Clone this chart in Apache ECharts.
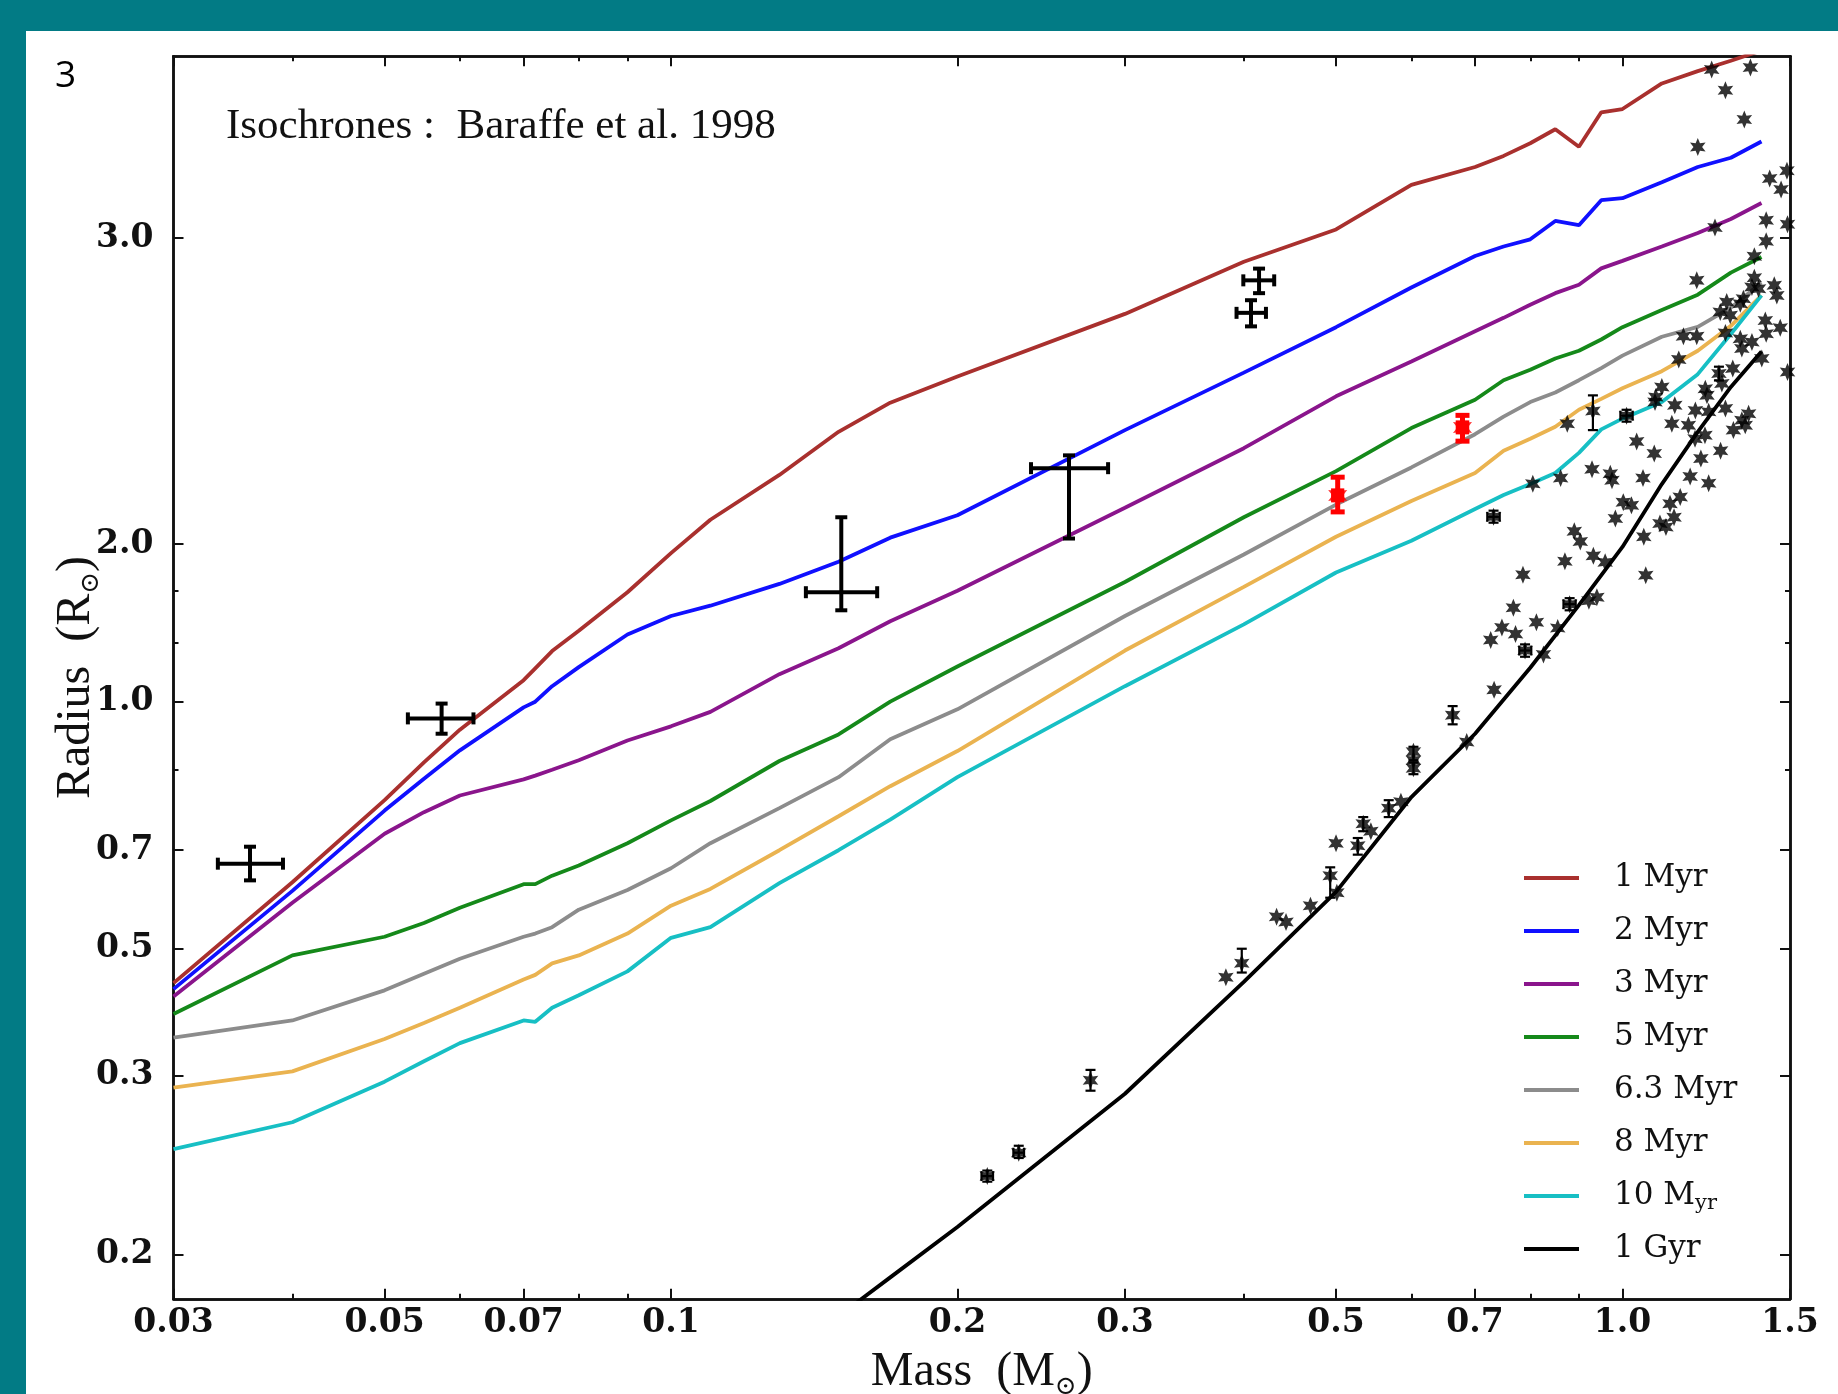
<!DOCTYPE html>
<html>
<head>
<meta charset="utf-8">
<title>Radius vs mass with Baraffe et al. 1998 isochrones</title>
<script src="https://cdn.jsdelivr.net/npm/echarts@6.0.0/dist/echarts.min.js"></script>
<style>
  html, body { margin: 0; padding: 0; }
  body { width: 1838px; height: 1394px; background: #027b85; position: relative; overflow: hidden; }
  #main { position: absolute; left: 26px; top: 31px; width: 1812px; height: 1363px; background: #fff; }
</style>
</head>
<body>
<div id="main"></div>
<script>
// axis ticks (the printed radius labels do not match the tick values, as in the original figure)
const massMajor = [0.03, 0.05, 0.07, 0.1, 0.2, 0.3, 0.5, 0.7, 1.0, 1.5];
const massMajorLabels = ['0.03', '0.05', '0.07', '0.1', '0.2', '0.3', '0.5', '0.7', '1.0', '1.5'];
const massMinor = [0.04, 0.06, 0.08, 0.09, 0.4, 0.6, 0.8, 0.9];
const radiusMajor = [0.2, 0.3, 0.4, 0.5, 0.7, 1.0, 2.0];
const radiusMajorLabels = ['0.2', '0.3', '0.5', '0.7', '1.0', '2.0', '3.0'];
const radiusMinor = [0.6, 0.8, 0.9];

// isochrones, mass grid shared by the Myr tracks
const isoMass = [0.03, 0.04, 0.05, 0.055, 0.06, 0.07, 0.072, 0.075, 0.08, 0.09, 0.1, 0.11, 0.13, 0.15, 0.17,
  0.2, 0.3, 0.4, 0.5, 0.6, 0.7, 0.75, 0.8, 0.85, 0.9, 0.95, 1.0, 1.1, 1.2, 1.3, 1.4];
const r1Myr = [0.370, 0.465, 0.560, 0.610, 0.657, 0.735, 0.755, 0.785, 0.822, 0.897, 0.980, 1.057, 1.170, 1.290, 1.378,
  1.462, 1.685, 1.896, 2.04, 2.257, 2.35, 2.41, 2.48, 2.56, 2.46, 2.66, 2.68, 2.84, 2.92, 2.99, 3.06];
const r2Myr = [0.365, 0.456, 0.547, 0.588, 0.627, 0.691, 0.700, 0.725, 0.757, 0.815, 0.850, 0.870, 0.914, 0.961, 1.015,
  1.068, 1.295, 1.475, 1.635, 1.789, 1.921, 1.963, 1.995, 2.08, 2.06, 2.18, 2.19, 2.27, 2.35, 2.40, 2.49];
const r3Myr = [0.359, 0.444, 0.519, 0.545, 0.566, 0.587, 0.592, 0.600, 0.613, 0.641, 0.662, 0.684, 0.745, 0.790, 0.840,
  0.900, 1.086, 1.243, 1.398, 1.513, 1.62, 1.67, 1.72, 1.766, 1.80, 1.868, 1.90, 1.963, 2.024, 2.089, 2.166];
const r5Myr = [0.345, 0.394, 0.411, 0.424, 0.439, 0.463, 0.463, 0.472, 0.483, 0.508, 0.535, 0.559, 0.612, 0.650, 0.700,
  0.758, 0.918, 1.063, 1.18, 1.301, 1.387, 1.45, 1.485, 1.523, 1.55, 1.59, 1.635, 1.70, 1.76, 1.85, 1.917];
const r6Myr = [0.327, 0.340, 0.364, 0.378, 0.391, 0.411, 0.414, 0.420, 0.437, 0.457, 0.480, 0.508, 0.550, 0.590, 0.643,
  0.688, 0.850, 0.977, 1.094, 1.19, 1.283, 1.335, 1.38, 1.41, 1.45, 1.49, 1.533, 1.60, 1.636, 1.709, 1.808];
const r8Myr = [0.292, 0.303, 0.326, 0.338, 0.350, 0.373, 0.377, 0.387, 0.394, 0.414, 0.441, 0.458, 0.500, 0.540, 0.578,
  0.626, 0.786, 0.908, 1.017, 1.103, 1.175, 1.236, 1.27, 1.305, 1.356, 1.39, 1.424, 1.48, 1.55, 1.64, 1.757];
const r10Myr = [0.254, 0.270, 0.296, 0.310, 0.323, 0.340, 0.339, 0.350, 0.360, 0.380, 0.410, 0.420, 0.464, 0.500, 0.536,
  0.590, 0.725, 0.834, 0.938, 1.008, 1.083, 1.118, 1.146, 1.175, 1.23, 1.297, 1.329, 1.38, 1.47, 1.61, 1.757];
const gyrMass = [0.15, 0.17, 0.2, 0.3, 0.4, 0.5, 0.6, 0.7, 0.8, 0.9, 1.0, 1.1, 1.2, 1.3, 1.4];
const r1Gyr = [0.174, 0.190, 0.213, 0.288, 0.371, 0.455, 0.564, 0.651, 0.756, 0.871, 0.994, 1.146, 1.29, 1.428, 1.547];

// observed stars [mass, radius]
const stars = [
  [0.215, 0.239], [0.232, 0.252], [0.276, 0.297], [0.383, 0.375], [0.398, 0.387], [0.433, 0.430], [0.443, 0.425],
  [0.470, 0.441], [0.493, 0.472], [0.501, 0.454], [0.500, 0.508], [0.527, 0.505], [0.534, 0.531], [0.544, 0.522],
  [0.568, 0.550], [0.585, 0.558], [0.603, 0.625], [0.603, 0.613], [0.603, 0.602], [0.686, 0.639], [0.663, 0.679],
  [0.733, 0.719], [0.727, 0.805], [0.747, 0.828], [0.772, 0.816], [0.812, 0.838], [0.790, 0.786], [0.826, 0.779],
  [0.855, 0.827], [0.768, 0.866], [0.880, 0.873], [0.940, 0.887], [0.922, 0.880], [0.786, 0.933], [1.058, 0.932],
  [0.870, 0.962], [0.932, 0.974], [0.959, 0.960], [0.890, 1.030], [0.903, 1.006], [1.053, 1.017], [0.732, 1.064],
  [0.983, 1.060], [1.002, 1.100], [1.022, 1.092], [1.095, 1.048], [1.111, 1.040], [1.133, 1.063], [1.150, 1.113],
  [1.122, 1.096], [0.805, 1.147], [0.861, 1.162], [0.929, 1.185], [0.971, 1.173], [0.975, 1.156], [1.051, 1.162],
  [1.080, 1.228], [1.035, 1.262], [1.178, 1.166], [1.232, 1.148], [1.209, 1.214], [1.268, 1.236], [1.221, 1.280],
  [1.192, 1.270], [1.308, 1.295], [0.875, 1.314], [0.931, 1.352], [1.010, 1.338], [1.084, 1.396], [1.100, 1.428],
  [1.082, 1.380], [1.135, 1.370], [1.127, 1.314], [1.173, 1.309], [1.193, 1.354], [1.232, 1.350], [1.283, 1.360],
  [1.357, 1.344], [1.335, 1.324], [1.346, 1.309], [1.222, 1.422], [1.227, 1.401], [1.263, 1.472], [1.272, 1.439],
  [1.306, 1.489], [1.146, 1.520], [1.401, 1.523], [1.491, 1.477], [1.159, 1.602], [1.197, 1.602], [1.283, 1.614],
  [1.330, 1.593], [1.368, 1.581], [1.335, 1.558], [1.413, 1.660], [1.416, 1.611], [1.465, 1.633], [1.267, 1.692],
  [1.298, 1.680], [1.287, 1.731], [1.330, 1.724], [1.340, 1.744], [1.444, 1.798], [1.453, 1.757], [1.376, 1.829],
  [1.390, 1.784], [1.368, 1.791], [1.197, 1.818], [1.376, 1.920], [1.416, 1.986], [1.416, 2.083], [1.491, 2.064],
  [1.251, 2.049], [1.489, 2.330], [1.428, 2.290], [1.468, 2.233], [1.200, 2.459], [1.343, 2.617], [1.283, 2.796],
  [1.241, 2.931], [1.363, 2.944]
];
// error bars [mass, radius, massLo, massHi, radiusLo, radiusHi]
const starErrors = [
  [0.215, 0.239, 0.212, 0.218, 0.236, 0.242], [0.232, 0.252, 0.229, 0.235, 0.249, 0.256],
  [0.276, 0.297, 0.276, 0.276, 0.290, 0.304], [0.398, 0.387, 0.398, 0.398, 0.379, 0.400],
  [0.493, 0.472, 0.493, 0.493, 0.449, 0.481], [0.527, 0.505, 0.527, 0.527, 0.495, 0.514],
  [0.534, 0.531, 0.534, 0.534, 0.522, 0.539], [0.568, 0.550, 0.568, 0.568, 0.539, 0.560],
  [0.603, 0.625, 0.603, 0.603, 0.613, 0.632], [0.603, 0.602, 0.603, 0.603, 0.594, 0.610],
  [0.663, 0.679, 0.663, 0.663, 0.665, 0.693], [0.790, 0.786, 0.779, 0.802, 0.775, 0.797],
  [0.880, 0.873, 0.867, 0.893, 0.861, 0.885], [0.732, 1.064, 0.721, 0.743, 1.050, 1.079],
  [0.931, 1.352, 0.931, 0.931, 1.295, 1.401], [1.010, 1.338, 0.995, 1.025, 1.320, 1.356],
  [1.263, 1.472, 1.263, 1.263, 1.449, 1.495]
];
const crossPoints = [
  [0.0361, 0.485, 0.0334, 0.0391, 0.467, 0.504], [0.0574, 0.674, 0.0529, 0.0620, 0.651, 0.697],
  [0.151, 0.897, 0.1386, 0.1647, 0.861, 1.063], [0.262, 1.188, 0.239, 0.288, 1.013, 1.223],
  [0.415, 1.818, 0.3995, 0.4305, 1.766, 1.867], [0.407, 1.689, 0.393, 0.422, 1.638, 1.738]
];
const redPoints = [
  [0.502, 1.117, 0.497, 0.507, 1.076, 1.164], [0.679, 1.303, 0.672, 0.686, 1.263, 1.339]
];

const L = Math.log10;
const starPath = 'path://M0 -1 L0.24 -0.42 L0.866 -0.5 L0.48 0 L0.866 0.5 L0.24 0.42 L0 1 L-0.24 0.42 L-0.866 0.5 L-0.48 0 L-0.866 -0.5 L-0.24 -0.42 Z';

const isochrones = [
  { name: '1 Myr', color: '#a9302e', radius: r1Myr },
  { name: '2 Myr', color: '#1010ff', radius: r2Myr },
  { name: '3 Myr', color: '#8a158c', radius: r3Myr },
  { name: '5 Myr', color: '#15891a', radius: r5Myr },
  { name: '6.3 Myr', color: '#8c8c8c', radius: r6Myr },
  { name: '8 Myr', color: '#eab350', radius: r8Myr },
  { name: '10 Myr', color: '#17bfc4', radius: r10Myr }
];

function labelFor(ticks, labels) {
  return function (v) {
    for (let i = 0; i < ticks.length; i++) {
      if (Math.abs(L(ticks[i]) - v) < 1e-6) return labels[i];
    }
    return '';
  };
}

const tickFont = { fontFamily: 'DejaVu Serif', fontWeight: 'bold', fontSize: 33, color: '#111' };

function makeAxis(dim, pos, ticks, len, labelOpt) {
  const ax = {
    type: 'value',
    position: pos,
    min: dim === 'x' ? L(0.03) : L(0.181),
    max: dim === 'x' ? L(1.5) : L(3.02),
    axisLine: { show: true, onZero: false, lineStyle: { color: '#111', width: 2.5 } },
    axisTick: { show: true, inside: true, length: len, lineStyle: { color: '#111', width: 2 }, customValues: ticks.map(L) },
    axisLabel: { show: false },
    splitLine: { show: false }
  };
  if (labelOpt) ax.axisLabel = labelOpt;
  return ax;
}

const chart = echarts.init(document.getElementById('main'));

const xMain = makeAxis('x', 'bottom', massMajor, 10, Object.assign({
  show: true, margin: 8, customValues: massMajor.map(L),
  formatter: labelFor(massMajor, massMajorLabels)
}, tickFont));
xMain.name = 'Mass  (M{s|⊙})';
xMain.nameLocation = 'middle';
xMain.nameGap = 40;
xMain.nameTextStyle = {
  fontFamily: 'Liberation Serif', fontSize: 48, color: '#111', lineHeight: 56,
  rich: { s: { fontFamily: 'DejaVu Serif', fontSize: 26, lineHeight: 26, verticalAlign: 'bottom', color: '#111' } }
};

const yMain = makeAxis('y', 'left', radiusMajor, 10, Object.assign({
  show: true, margin: 20, customValues: radiusMajor.map(L),
  formatter: labelFor(radiusMajor, radiusMajorLabels)
}, tickFont));
yMain.name = 'Radius  (R{s|⊙})';
yMain.nameLocation = 'middle';
yMain.nameRotate = 90;
yMain.nameGap = 69;
yMain.nameMoveOverlap = false;
yMain.nameTextStyle = xMain.nameTextStyle;

function errorBars(width, cap, color) {
  return function (params, api) {
    const m = api.value(0), r = api.value(1);
    const p = api.coord([m, r]);
    const xl = api.coord([api.value(2), r]), xr = api.coord([api.value(3), r]);
    const yb = api.coord([m, api.value(4)]), yt = api.coord([m, api.value(5)]);
    const h = cap / 2;
    const segs = [];
    if (xr[0] - xl[0] > 1) {
      segs.push([xl[0], p[1], xr[0], p[1]], [xl[0], p[1] - h, xl[0], p[1] + h], [xr[0], p[1] - h, xr[0], p[1] + h]);
    }
    if (yb[1] - yt[1] > 1) {
      segs.push([p[0], yt[1], p[0], yb[1]], [p[0] - h, yt[1], p[0] + h, yt[1]], [p[0] - h, yb[1], p[0] + h, yb[1]]);
    }
    return {
      type: 'group',
      children: segs.map(s => ({
        type: 'line',
        shape: { x1: s[0], y1: s[1], x2: s[2], y2: s[3] },
        style: { stroke: color, lineWidth: width }
      }))
    };
  };
}

const series = isochrones.map(s => ({
  type: 'line', name: s.name,
  data: isoMass.map((m, i) => [L(m), L(s.radius[i])]),
  symbol: 'none', showSymbol: false,
  lineStyle: { color: s.color, width: 3.8 },
  itemStyle: { color: s.color },
  z: 2
}));
series.push({
  type: 'line', name: '1 Gyr',
  data: gyrMass.map((m, i) => [L(m), L(r1Gyr[i])]),
  symbol: 'none', showSymbol: false,
  lineStyle: { color: '#000', width: 3.8 },
  itemStyle: { color: '#000' },
  z: 2
});
series.push({
  type: 'scatter', name: 'stars',
  data: stars.map(p => [L(p[0]), L(p[1])]),
  symbol: starPath, symbolSize: 18, symbolKeepAspect: true,
  itemStyle: { color: '#000' },
  z: 3
});
series.push({
  type: 'custom', name: 'star errors',
  renderItem: errorBars(2.2, 10, '#000'),
  data: starErrors.map(row => row.map(L)),
  encode: { x: 0, y: 1 },
  z: 4
});
series.push({
  type: 'custom', name: 'crosses',
  renderItem: errorBars(4, 12, '#000'),
  data: crossPoints.map(row => row.map(L)),
  encode: { x: 0, y: 1 },
  z: 4
});
series.push({
  type: 'custom', name: 'red errors',
  renderItem: errorBars(5, 14, '#ff0000'),
  data: redPoints.map(row => row.map(L)),
  encode: { x: 0, y: 1 },
  z: 5
});
series.push({
  type: 'scatter', name: 'red stars',
  data: redPoints.map(p => [L(p[0]), L(p[1])]),
  symbol: starPath, symbolSize: 22, symbolKeepAspect: true,
  itemStyle: { color: '#ff0000' },
  z: 6
});

chart.setOption({
  animation: false,
  backgroundColor: '#fff',
  title: [
    {
      text: 'Isochrones :  Baraffe et al. 1998', left: 200, top: 74, padding: 0,
      textStyle: { fontFamily: 'Liberation Serif', fontSize: 43, fontWeight: 'normal', color: '#111' }
    },
    {
      text: '3', left: 29, top: 27, padding: 0,
      textStyle: { fontFamily: 'Open Sans', fontSize: 37, fontWeight: 'normal', color: '#000' }
    }
  ],
  legend: {
    orient: 'vertical', left: 1498, top: 829, padding: 0,
    icon: 'rect', itemWidth: 55, itemHeight: 4, itemGap: 17,
    data: ['1 Myr', '2 Myr', '3 Myr', '5 Myr', '6.3 Myr', '8 Myr', '10 Myr', '1 Gyr'],
    formatter: n => (n === '10 Myr' ? '10 M{sub|yr}' : n),
    textStyle: {
      fontFamily: 'DejaVu Serif', fontSize: 31, lineHeight: 36, color: '#111', padding: [0, 0, 0, 30],
      rich: { sub: { fontFamily: 'DejaVu Serif', fontSize: 21, lineHeight: 21, verticalAlign: 'bottom', color: '#111' } }
    },
    selectedMode: false
  },
  grid: { left: 147.5, top: 25.3, width: 1616.5, height: 1242.5, containLabel: false, outerBoundsMode: 'none' },
  xAxis: [
    xMain,
    makeAxis('x', 'bottom', massMinor, 5),
    makeAxis('x', 'top', massMajor, 10),
    makeAxis('x', 'top', massMinor, 5)
  ],
  yAxis: [
    yMain,
    makeAxis('y', 'left', radiusMinor, 5),
    makeAxis('y', 'right', radiusMajor, 10),
    makeAxis('y', 'right', radiusMinor, 5)
  ],
  series: series
});
</script>
</body>
</html>
